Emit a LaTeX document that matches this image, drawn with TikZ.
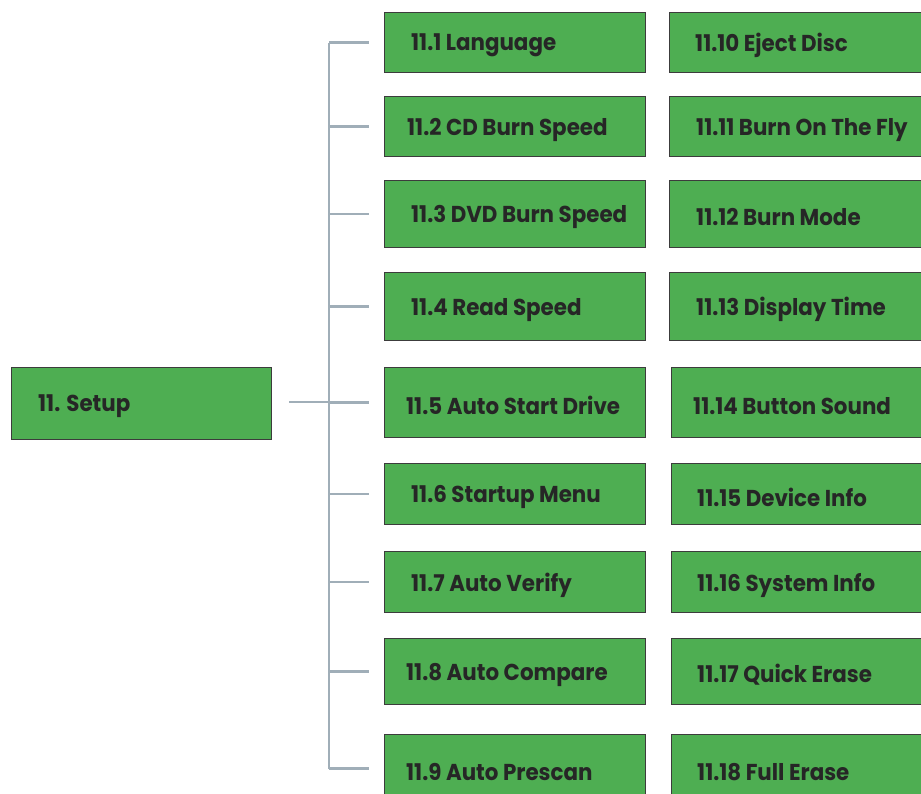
\documentclass[tikz,border=0pt]{standalone}
\usepackage{fontspec}
\newfontfamily\lblfont{Poppins}[FakeStretch=0.93]
\definecolor{boxgreen}{HTML}{4EAE52}
\definecolor{boxline}{HTML}{3C3C3C}
\definecolor{connline}{HTML}{A0AEB8}
\tikzset{
  box/.style={draw=boxline, line width=1.3pt, fill=boxgreen, rectangle, inner sep=0pt, anchor=north west},
  lbl/.style={anchor=west, inner sep=0pt, font=\lblfont\bfseries\fontsize{23}{23}\selectfont, text=black!85},
  conn/.style={draw=connline, line width=2.6pt}
}
\begin{document}
\begin{tikzpicture}[x=1pt,y=-1pt]
\clip (0,0) rectangle (921,794);
\fill[white] (0,0) rectangle (921,794);
% root
\node[box, minimum width=260, minimum height=72] (setup) at (11,367) {};
\node[lbl] (tsetup) at ([xshift=27,yshift=-3]setup.west) {11. Setup};
% left column
\node[box, minimum width=261, minimum height=60] (b1) at (384,12) {};
\node[box, minimum width=261, minimum height=60] (b2) at (384,96) {};
\node[box, minimum width=261, minimum height=67] (b3) at (384,180) {};
\node[box, minimum width=261, minimum height=68] (b4) at (384,272) {};
\node[box, minimum width=261, minimum height=70] (b5) at (384,367) {};
\node[box, minimum width=261, minimum height=61] (b6) at (384,463) {};
\node[box, minimum width=261, minimum height=61] (b7) at (384,551) {};
\node[box, minimum width=261, minimum height=66] (b8) at (384,638) {};
\node[box, minimum width=261, minimum height=68] (b9) at (384,734) {};
% right column
\node[box, minimum width=262, minimum height=60] (b10) at (669,12) {};
\node[box, minimum width=262, minimum height=60] (b11) at (669,96) {};
\node[box, minimum width=262, minimum height=67] (b12) at (669,180) {};
\node[box, minimum width=262, minimum height=68] (b13) at (669,272) {};
\node[box, minimum width=260, minimum height=70] (b14) at (671,367) {};
\node[box, minimum width=260, minimum height=61] (b15) at (671,463) {};
\node[box, minimum width=260, minimum height=61] (b16) at (671,551) {};
\node[box, minimum width=260, minimum height=66] (b17) at (671,638) {};
\node[box, minimum width=260, minimum height=68] (b18) at (671,734) {};
% labels
\node[lbl] (t1) at ([xshift=27,yshift=-3]b1.west) {11.1 Language};
\node[lbl] (t2) at ([xshift=23,yshift=-3]b2.west) {11.2 CD Burn Speed};
\node[lbl] (t3) at ([xshift=27,yshift=-3]b3.west) {11.3 DVD Burn Speed};
\node[lbl] (t4) at ([xshift=27,yshift=-3]b4.west) {11.4 Read Speed};
\node[lbl] (t5) at ([xshift=22,yshift=-3]b5.west) {11.5 Auto Start Drive};
\node[lbl] (t6) at ([xshift=27,yshift=-3]b6.west) {11.6 Startup Menu};
\node[lbl] (t7) at ([xshift=27,yshift=-3]b7.west) {11.7 Auto Verify};
\node[lbl] (t8) at ([xshift=22,yshift=-3]b8.west) {11.8 Auto Compare};
\node[lbl] (t9) at ([xshift=22,yshift=-3]b9.west) {11.9 Auto Prescan};
\node[lbl] (t10) at ([xshift=26,yshift=-3]b10.west) {11.10 Eject Disc};
\node[lbl] (t11) at ([xshift=27,yshift=-3]b11.west) {11.11 Burn On The Fly};
\node[lbl] (t12) at ([xshift=27,yshift=-3]b12.west) {11.12 Burn Mode};
\node[lbl] (t13) at ([xshift=27,yshift=-3]b13.west) {11.13 Display Time};
\node[lbl] (t14) at ([xshift=22,yshift=-3]b14.west) {11.14 Button Sound};
\node[lbl] (t15) at ([xshift=26,yshift=-3]b15.west) {11.15 Device Info};
\node[lbl] (t16) at ([xshift=26,yshift=-3]b16.west) {11.16 System Info};
\node[lbl] (t17) at ([xshift=26,yshift=-3]b17.west) {11.17 Quick Erase};
\node[lbl] (t18) at ([xshift=26,yshift=-3]b18.west) {11.18 Full Erase};
% connectors
\coordinate (trunk) at (329,402);
\draw[conn] ([xshift=17]setup.east |- trunk) -- (trunk);
\draw[conn] (trunk |- b1.west) -- (trunk |- b9.west);
\foreach \b in {b1,b2,b3,b4,b5,b6,b7,b8,b9}{
  \draw[conn] (trunk |- \b.west) -- ([xshift=-15]\b.west);
}
\end{tikzpicture}
\end{document}
